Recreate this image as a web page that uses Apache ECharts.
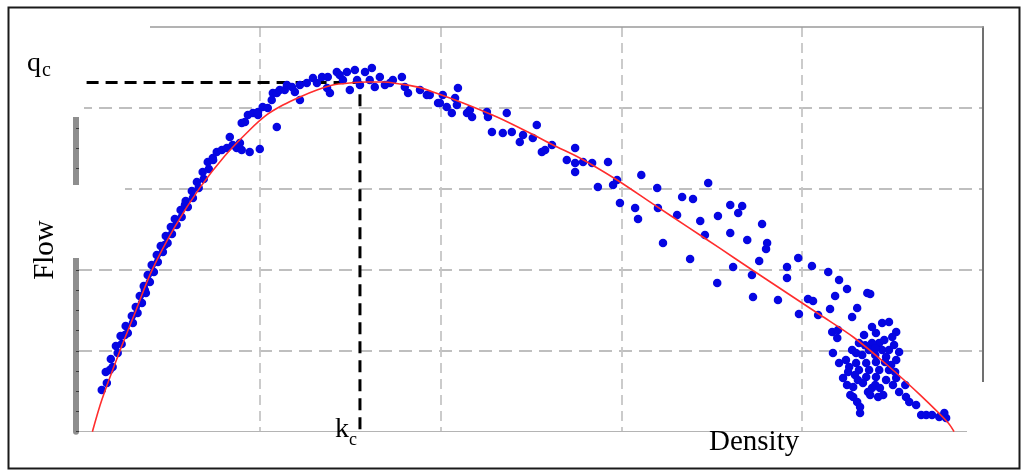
<!DOCTYPE html>
<html>
<head>
<meta charset="utf-8">
<script src="https://cdn.jsdelivr.net/npm/echarts@6/dist/echarts.min.js"></script>
<style>
  html, body { margin: 0; padding: 0; background: #fff; }
  #chart { width: 1021px; height: 471px; }
</style>
</head>
<body>
<div id="chart"></div>
<script>
// Axis ranges (density in veh/km, flow in veh/h)
const densityMax = 250, densityStep = 50;
const flowMax = 2500, flowStep = 500;

// Critical density and capacity flow
const kc = 77.7;
const qc = 2157;
const qcLineStart = 2.1;

// Observations: uncongested branch
const freeFlowObs = [
  [6.3,258],[7.7,301],[7.4,369],[8.5,381],[9.3,400],[8.8,449],[10.7,486],[10.2,529],[11.8,542],[11.5,591],
  [12.7,597],[13.5,610],[12.9,653],[14.9,672],[14.6,715],[16.2,733],[15.7,770],[17.4,795],[16.8,838],[18.2,875],
  [18.5,857],[17.9,900],[19.6,925],[19.0,968],[20.7,987],[20.1,1030],[21.8,1048],[21.5,1092],[23.2,1110],[22.6,1147],
  [23.7,1153],[24.5,1166],[24.0,1209],[25.7,1221],[25.4,1265],[27.0,1277],[26.5,1314],[28.4,1326],[28.1,1370],[29.3,1400],
  [30.1,1388],[29.5,1425],[31.5,1444],[31.2,1487],[33.1,1506],[32.6,1543],[34.5,1561],[34.2,1604],[35.9,1623],[35.6,1666],
  [37.0,1691]
];

// Observations: near capacity
const capacityObs = [
  [37.1,1679],[38.1,1728],[39.5,1740],[40.9,1753],[41.7,1821],[42.5,1771],[43.6,1753],[44.5,1784],[45.0,1740],[47.2,1728],
  [50.0,1747],[45.0,1907],[45.9,1913],[46.7,1957],[48.1,1969],[49.5,1957],[49.5,1975],[50.8,2006],[52.2,2000],[53.3,2049],
  [53.6,2092],[54.7,2092],[54.7,1882],[55.5,2111],[56.9,2111],[57.5,2142],[58.9,2130],[59.7,2099],[61.1,2049],[61.1,2142],
  [63.0,2154],[64.7,2185],[65.8,2154],[67.2,2191],[68.6,2123],[68.8,2191],[69.4,2092],[71.3,2222],[72.1,2204],[73.0,2173],
  [74.1,2222],[74.9,2111],[76.3,2235],[76.9,2173],[77.7,2142],[79.1,2222],[80.4,2173],[81.0,2247],[81.8,2130],[83.2,2191],
  [84.6,2142],[86.0,2154],[86.8,2173],[89.3,2191],[90.1,2130],[91.0,2092],[94.3,2111],[96.2,2080],[99.3,2031]
];

// Observations: congested branch
const congestedObs = [
  [97.0,2080],[99.8,2031],[100.6,2080],[101.7,2006],[103.1,1969],[104.0,2062],[104.5,2018],[104.8,2123],[107.3,1969],[108.1,1987],
  [108.7,1944],[112.8,1975],[113.1,1944],[114.2,1852],[117.2,1845],[118.3,1969],[119.7,1852],[121.9,1790],[122.8,1833],[125.5,1814],
  [126.6,1895],[128.0,1728],[128.9,1740],[130.8,1771],[134.9,1679],[137.2,1753],[137.2,1660],[137.2,1604],[139.4,1666],[141.9,1660],
  [143.5,1512],[146.3,1666],[147.7,1524],[148.8,1555],[155.5,1586],[149.6,1413],[153.8,1382],[154.6,1314],[159.9,1506],[160.1,1382],
  [161.5,1166],[165.4,1339],[166.8,1450],[169.0,1067],[169.8,1438],[171.8,1302],[173.1,1215],[174.0,1536],[176.5,919],[176.7,1333],
  [180.1,1401],[180.1,1228],[180.9,1018],[182.3,1351],[183.4,1394],[184.8,1184],[186.1,968],[186.4,832],[188.1,1055],[188.9,1283],
  [190.0,1129],[190.3,1166],[193.3,814],[195.8,1018],[195.8,950],[198.9,1073],[199.1,727],[201.6,820],[202.7,1024],[203.0,807],
  [207.2,987],[210.2,937],[212.4,882],[209.1,838],[218.0,857],[218.8,851],[207.7,758],[215.2,764],[213.8,709],[204.4,721],
  [208.3,616],[209.9,628],[209.7,579],[208.5,486],[210.2,424],[219.3,647],[222.1,672],[224.0,678],[226.0,616],[224.9,585],
  [220.4,610],[221.3,548],[219.3,548],[215.7,548],[213.8,505],[214.9,486],[216.6,474],[218.5,505],[222.1,505],[224.0,505],
  [226.8,492],[223.2,461],[226.0,443],[220.4,431],[217.7,424],[214.9,424],[213.0,400],[212.1,443],[215.7,381],[218.5,381],
  [221.3,381],[224.0,381],[217.7,338],[220.4,338],[223.2,319],[226.0,332],[211.3,332],[212.4,289],[214.1,276],[216.8,301],
  [219.3,270],[222.4,227],[221.0,214],[214.1,214],[215.2,183],[216.0,153],[216.0,116],[226.8,245],[228.7,214],[229.6,183],
  [231.5,165],[232.9,103],[234.3,103],[235.9,103],[237.9,91],[239.8,85],[239.3,116],[217.1,597],[222.7,567],[225.4,536],
  [220.2,474],[224.6,412],[214.6,350],[220.2,289],[225.1,289],[213.3,227],[218.2,245],[217.4,534],[220.2,516],[222.9,430],
  [225.7,369],[215.4,319],[218.8,226],[221.5,270],[212.7,369],[228.5,289]
];

// Fitted flow-density curve
const fittedCurve = [
  [3.7,0],[6.3,196],[11.3,499],[15.7,746],[20.1,993],[26.5,1265],[33.4,1506],[40.3,1703],[47.2,1864],[51.9,1957],
  [56.4,2018],[61.1,2068],[65.8,2111],[70.2,2142],[74.9,2154],[79.6,2160],[84.0,2160],[88.7,2148],[93.5,2130],[97.9,2099],
  [106.2,2031],[115.6,1944],[124.7,1845],[131.1,1771],[138.5,1691],[148.8,1555],[158.7,1407],[168.2,1267],[177.3,1132],[186.4,996],
  [195.8,857],[205.0,721],[214.1,585],[223.5,412],[232.6,227],[240.4,54],[242.0,0]
];

const serif = '"Liberation Serif", "DejaVu Serif", serif';
const dotColor = '#0606e2';

function dotSeries(name, data) {
  return {
    name: name, type: 'scatter', data: data, symbolSize: 8.5, z: 3,
    itemStyle: { color: dotColor, opacity: 1 }, silent: true
  };
}

function mask(x, y, w, h) {
  return { type: 'rect', z: 1, silent: true, shape: { x: x, y: y, width: w, height: h }, style: { fill: '#ffffff' } };
}

function label(text, x, y, size, extra) {
  return Object.assign({
    type: 'text', z: 20, silent: true, x: x, y: y,
    style: {
      text: text, fill: '#000', fontSize: size, fontFamily: serif,
      textAlign: 'left', textVerticalAlign: 'middle', align: 'left', verticalAlign: 'middle'
    }
  }, extra || {});
}

const chart = echarts.init(document.getElementById('chart'), null, { renderer: 'canvas' });

chart.setOption({
  animation: false,
  backgroundColor: '#ffffff',
  grid: { left: 79, top: 27, width: 904, height: 404.7, show: false },
  xAxis: [
    {
      type: 'value', min: 0, max: densityMax, interval: densityStep, position: 'bottom',
      axisLine: { show: true, onZero: false, lineStyle: { color: '#b4b4b4', width: 1.2 } },
      axisTick: { show: false }, axisLabel: { show: false },
      splitLine: { show: true, showMinLine: false, showMaxLine: false,
        lineStyle: { color: '#c6c6c6', width: 1.8, type: [10, 6] } }
    },
    {
      type: 'value', min: 0, max: densityMax, interval: densityStep, position: 'top',
      axisLine: { show: true, onZero: false, lineStyle: { color: '#9a9a9a', width: 1.5 } },
      axisTick: { show: false }, axisLabel: { show: false }, splitLine: { show: false }
    }
  ],
  yAxis: [
    {
      type: 'value', min: 0, max: flowMax, interval: flowStep, position: 'left', offset: 3,
      axisLine: { show: true, onZero: false, lineStyle: { color: '#8e8e8e', width: 6 } },
      axisTick: { show: true, inside: true, length: 3, lineStyle: { color: '#3a3a3a', width: 1 } },
      minorTick: { show: true, splitNumber: 4, length: 3, lineStyle: { color: '#3a3a3a', width: 1 } },
      axisLabel: { show: false },
      splitLine: { show: false }
    },
    {
      type: 'value', min: 0, max: flowMax, interval: flowStep, position: 'left',
      axisLine: { show: false }, axisTick: { show: false }, axisLabel: { show: false },
      splitLine: { show: true, showMinLine: false, showMaxLine: false,
        lineStyle: { color: '#ababab', width: 1.6, type: [13, 7] } }
    },
    {
      type: 'value', min: 0, max: flowMax, interval: flowStep, position: 'right',
      axisLine: { show: true, onZero: false, lineStyle: { color: '#707070', width: 2 } },
      axisTick: { show: false }, axisLabel: { show: false }, splitLine: { show: false }
    }
  ],
  series: [
    {
      name: 'critical', type: 'line', symbol: 'none', z: 2, silent: true,
      data: [[qcLineStart, qc], [kc, qc], [kc, 0]],
      lineStyle: { color: '#000', width: 3, type: [12, 7] }
    },
    dotSeries('uncongested', freeFlowObs),
    dotSeries('capacity', capacityObs),
    dotSeries('congested', congestedObs),
    {
      name: 'fit', type: 'line', symbol: 'none', z: 4, silent: true, smooth: 0.3,
      data: fittedCurve,
      lineStyle: { color: '#ff2d2d', width: 1.6 }
    }
  ],
  graphic: [
    // outer frame
    { type: 'rect', z: 20, silent: true, shape: { x: 8.5, y: 7.5, width: 1011, height: 461 },
      style: { fill: 'none', stroke: '#1a1a1a', lineWidth: 2 } },
    // cut-away regions of the plot box
    mask(60, 20, 24, 97),
    mask(60, 20, 90, 12),
    mask(55, 185, 70, 73),
    mask(967, 382, 40, 60),
    // annotations
    label('q', 27, 64, 28),
    label('c', 42, 71, 20),
    label('k', 335, 430, 28),
    label('c', 349, 440, 18),
    label('Density', 709, 442, 29),
    label('Flow', 45, 250, 29, { rotation: Math.PI / 2,
      style: { text: 'Flow', fill: '#000', fontSize: 29, fontFamily: serif,
        textAlign: 'center', textVerticalAlign: 'middle', align: 'center', verticalAlign: 'middle' } })
  ]
});
</script>
</body>
</html>
